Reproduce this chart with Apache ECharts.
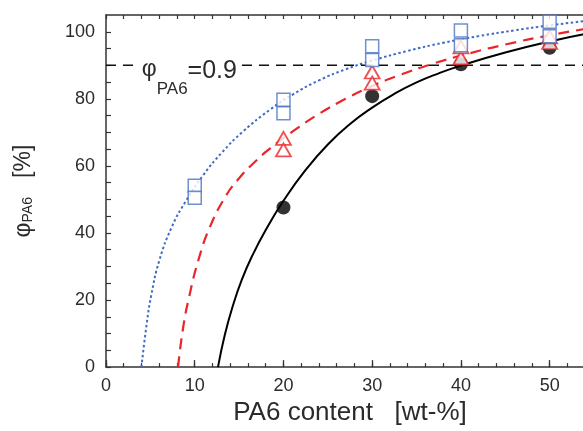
<!DOCTYPE html>
<html>
<head>
<meta charset="utf-8">
<script src="https://cdn.jsdelivr.net/npm/echarts@6/dist/echarts.min.js"></script>
<style>
html,body{margin:0;padding:0;background:#fff;overflow:hidden;width:583px;height:431px;}
#c{width:620px;height:431px;}
</style>
</head>
<body>
<div id="c"></div>
<script>
// ---- data ----
const xLabelTicks = [0, 10, 20, 30, 40, 50];
const yLabelTicks = [0, 20, 40, 60, 80, 100];
const squares = [[10,54.1],[10,50.5],[20,79.7],[20,75.7],[30,95.7],[30,91.6],[40,100.4],[40,96.0],[50,103.0],[50,98.7]];
const triangles = [[20,68.2],[20,64.8],[30,88.0],[30,84.7],[40,92.2],[40,95.5],[50,96.8],[50,98.5]];
const circles = [[20,47.6],[30,80.8],[40,90.3],[50,95.2]];
const blackCurve = [[12.62,0],[13.4,9.7],[14.3,18.3],[15.3,26.0],[16.5,33.3],[18,40.9],[20,49.6],[22.5,58.8],[25,66.4],[27.5,72.5],[30,77.4],[32.5,81.5],[35,84.9],[37.5,87.6],[40,89.9],[45,93.8],[50,97.1],[55,99.85]];
const redCurve = [[8.12,0],[8.7,11.9],[9.4,21.3],[10.4,31.8],[11.7,41.7],[13.5,51.0],[15,56.3],[16.5,60.5],[18.5,65.2],[21,70.2],[24,75.5],[27,80.0],[30,83.8],[33,87.0],[37,90.6],[41,93.6],[45,96.2],[50,98.95],[55,101.3]];
const blueCurve = [[3.99,0],[4.6,13.1],[5.1,21.4],[6,31.7],[7.4,41.7],[9,49.5],[11,57.4],[13,63.8],[15.5,70.4],[18.5,76.8],[21,81.2],[24,85.5],[27,88.8],[30,91.4],[34,94.3],[38,96.7],[42,98.7],[46,100.4],[50,101.9],[55,103.5]];
const thresholdY = 90;
const thresholdLine = [[0, thresholdY], [55, thresholdY]];
const thresholdLabelAt = [9.4, thresholdY];

const FONT = 'Liberation Sans, Arial, sans-serif';
const TXT = '#2b2b2b';
const AX = '#333';

const chart = echarts.init(document.getElementById('c'), null, {renderer: 'canvas'});
const option = {
  animation: false,
  backgroundColor: '#fff',
  grid: {left: 106, top: 15, right: 26, bottom: 55},
  xAxis: [
    {
      type: 'value', min: 0, max: 55, interval: 10, position: 'bottom',
      axisLine: {show: true, onZero: false, lineStyle: {color: AX, width: 1.5}},
      axisTick: {show: true, inside: true, length: 7, lineStyle: {color: AX, width: 1.3}},
      axisLabel: {showMaxLabel: false, fontSize: 18, color: TXT, margin: 10, fontFamily: FONT,
        formatter: v => xLabelTicks.includes(v) ? String(v) : ''},
      splitLine: {show: false},
      name: 'PA6 content   [wt-%]', nameLocation: 'middle', nameGap: 32,
      nameTextStyle: {fontSize: 26, color: TXT, fontFamily: FONT}
    },
    {
      type: 'value', min: 0, max: 55, interval: 2, position: 'bottom',
      axisLine: {show: false, onZero: false},
      axisTick: {show: true, inside: true, length: 4, lineStyle: {color: AX, width: 1.2}},
      axisLabel: {show: false}, splitLine: {show: false}
    },
    {
      type: 'value', min: 0, max: 55, interval: 2, position: 'top',
      axisLine: {show: true, onZero: false, lineStyle: {color: AX, width: 1.5}},
      axisTick: {show: true, inside: true, length: 4, lineStyle: {color: AX, width: 1.2}},
      axisLabel: {show: false}, splitLine: {show: false}
    }
  ],
  yAxis: [{
    type: 'value', min: 0, max: 105, interval: 5,
    axisLine: {show: true, onZero: false, lineStyle: {color: AX, width: 1.5}},
    axisTick: {show: true, inside: true, length: 5, lineStyle: {color: AX, width: 1.2}},
    axisLabel: {showMaxLabel: false, fontSize: 18, color: TXT, margin: 11, fontFamily: FONT,
      formatter: v => yLabelTicks.includes(v) ? String(v) : ''},
    splitLine: {show: false},
    name: '{p|φ}{s|PA6}{t|   [%]}', nameLocation: 'middle', nameRotate: 90, nameGap: 71,
    nameTextStyle: {
      color: TXT, fontFamily: FONT,
      rich: {
        p: {fontSize: 23, color: TXT, fontFamily: FONT, verticalAlign: 'bottom'},
        s: {fontSize: 14, color: TXT, fontFamily: FONT, verticalAlign: 'bottom'},
        t: {fontSize: 23, color: TXT, fontFamily: FONT, verticalAlign: 'bottom'}
      }
    }
  }],
  series: [
    {
      type: 'line', data: blackCurve, smooth: 0.5, showSymbol: false,
      lineStyle: {color: '#000', width: 2}, z: 2
    },
    {
      type: 'line', data: redCurve, smooth: 0.5, showSymbol: false,
      lineStyle: {color: '#e8262b', width: 2.2, type: [11, 7]}, z: 2
    },
    {
      type: 'line', data: blueCurve, smooth: 0.5, showSymbol: false,
      lineStyle: {color: '#3f6cc4', width: 2, type: [2.5, 2.5]}, z: 2
    },
    {
      type: 'line', data: thresholdLine, showSymbol: false,
      lineStyle: {color: '#111', width: 1.6, type: [10, 7]}, z: 2,
      markPoint: {
        symbol: 'rect', symbolSize: 1, itemStyle: {color: 'rgba(0,0,0,0)'},
        data: [{coord: thresholdLabelAt}],
        label: {
          show: true, position: 'inside', backgroundColor: '#fff', padding: [0, 3],
          offset: [0, 7],
          formatter: '{p|φ}{s|PA6}{e|=0.9}',
          rich: {
            p: {fontSize: 23, color: TXT, fontFamily: FONT, lineHeight: 28, verticalAlign: 'top'},
            s: {fontSize: 17, color: TXT, fontFamily: FONT, lineHeight: 18, verticalAlign: 'top', padding: [23, 0, 0, 0]},
            e: {fontSize: 25, color: TXT, fontFamily: FONT, lineHeight: 28, verticalAlign: 'top'}
          }
        }
      }
    },
    {
      type: 'scatter', data: circles, symbol: 'circle', symbolSize: 14,
      itemStyle: {color: '#000'}, z: 3
    },
    {
      type: 'scatter', data: triangles, symbol: 'triangle', symbolSize: [15, 13],
      itemStyle: {color: '#fff', borderColor: '#e8262b', borderWidth: 1.8}, z: 4
    },
    {
      type: 'scatter', data: squares, symbol: 'rect', symbolSize: 13,
      itemStyle: {color: '#fff', borderColor: '#4a74c4', borderWidth: 1.5}, z: 5
    }
  ]
};
chart.setOption(option);
</script>
</body>
</html>
